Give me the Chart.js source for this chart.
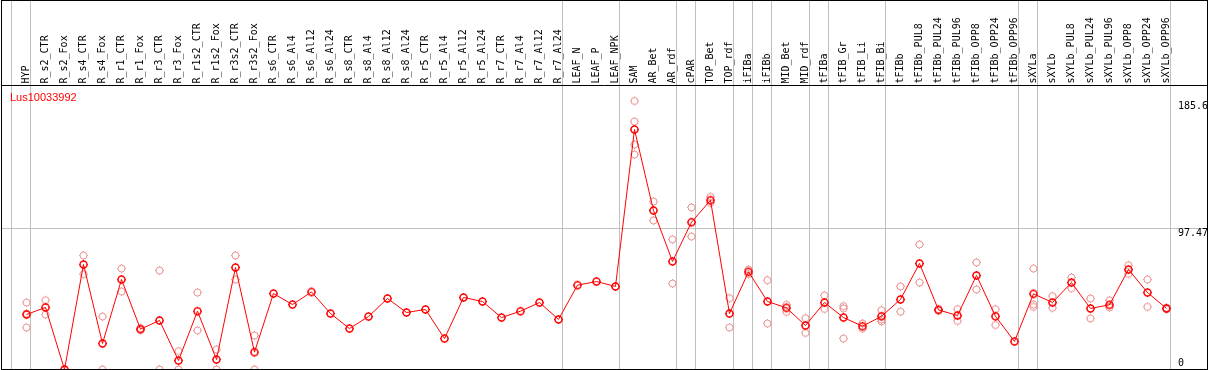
<!DOCTYPE html>
<html>
<head>
<meta charset="utf-8">
<script src="https://cdn.jsdelivr.net/npm/chart.js@4"></script>
<style>
  html, body { margin: 0; padding: 0; background: #fff; }
  canvas { display: block; }
</style>
</head>
<body>
<canvas id="chart" width="1209" height="370"></canvas>
<script>
const geneId = 'Lus10033992';

const categories = [
  'HYP', 'R_s2_CTR', 'R_s2_Fox', 'R_s4_CTR', 'R_s4_Fox', 'R_r1_CTR', 'R_r1_Fox',
  'R_r3_CTR', 'R_r3_Fox', 'R_r1s2_CTR', 'R_r1s2_Fox', 'R_r3s2_CTR', 'R_r3s2_Fox',
  'R_s6_CTR', 'R_s6_Al4', 'R_s6_Al12', 'R_s6_Al24', 'R_s8_CTR', 'R_s8_Al4',
  'R_s8_Al12', 'R_s8_Al24', 'R_r5_CTR', 'R_r5_Al4', 'R_r5_Al12', 'R_r5_Al24',
  'R_r7_CTR', 'R_r7_Al4', 'R_r7_Al12', 'R_r7_Al24', 'LEAF_N', 'LEAF_P', 'LEAF_NPK',
  'SAM', 'AR_Bet', 'AR_rdf', 'cPAR', 'TOP_Bet', 'TOP_rdf', 'iFIBa', 'iFIBb',
  'MID_Bet', 'MID_rdf', 'tFIBa', 'tFIB_Gr', 'tFIB_Li', 'tFIB_Bi', 'tFIBb',
  'tFIBb_PUL8', 'tFIBb_PUL24', 'tFIBb_PUL96', 'tFIBb_OPP8', 'tFIBb_OPP24', 'tFIBb_OPP96',
  'sXYLa', 'sXYLb', 'sXYLb_PUL8', 'sXYLb_PUL24', 'sXYLb_PUL96', 'sXYLb_OPP8',
  'sXYLb_OPP24', 'sXYLb_OPP96'
];

// mean expression per sample (red line)
const meanValues = [
  38.0, 42.9, 0, 72.6, 18.0, 62.2, 27.9, 33.9, 6.2, 40.3, 6.9, 70.5, 12.0,
  52.5, 44.9, 53.6, 38.7, 28.3, 36.6, 49.1, 39.4, 41.5, 21.4, 49.8, 47.0,
  35.9, 40.3, 46.3, 34.6, 58.3, 60.8, 57.4,
  165.9, 109.9, 74.7, 101.8, 117.0, 38.7, 67.5, 47.0, 42.6, 30.4, 46.3,
  35.9, 29.9, 36.8, 48.4, 73.3, 41.2, 37.3, 65.0, 36.8, 19.4,
  52.3, 46.3, 60.1, 42.2, 44.7, 69.1, 53.2, 42.2
];

// individual replicates (pale circles), one list per sample
const replicates = [
  [46.3, 29.0, 38.7], [47.9, 38.0], [0, 0], [78.8, 65.9], [36.6, 0], [69.8, 53.9],
  [28.5, 27.3], [68.4, 0], [12.7, 0], [53.2, 27.0], [13.8, 0], [78.8, 62.2], [23.5, 0],
  [], [], [], [], [], [], [], [], [], [], [], [],
  [], [], [], [], [], [], [],
  [185.6, 171.4, 155.5, 148.6], [116.1, 103.0], [89.9, 59.4], [112.0, 91.9],
  [119.3, 115.2], [49.3, 29.0], [69.1, 65.9], [61.7, 31.8], [44.7, 39.8],
  [35.5, 25.3], [51.2, 41.9], [43.8, 42.2, 21.4], [31.8, 28.3], [41.0, 33.2, 34.6],
  [57.4, 40.0], [86.4, 60.1], [41.7, 40.7], [41.7, 33.6], [74.0, 55.3], [41.7, 30.8], [],
  [69.8, 44.9, 43.3], [50.7, 42.6], [63.6, 56.2], [49.1, 35.3], [47.7, 42.9],
  [72.1, 66.1], [62.2, 43.3], [41.7, 42.7]
];

// last sample index of each group (vertical separators)
const groupEnds = [-1, 0, 28, 31, 34, 35, 37, 38, 39, 41, 42, 45, 52, 53, 60];
const yTicks = [97.47, 185.6];
const yZeroTick = [0];
const yMax = 196.3;

const RED = '#ff0000';
const PALE = '#ec8f8f';
const GRID = '#c0c0c0';
const SEP_SHIFT = 0.21;
const MONO = { family: '"DejaVu Sans Mono", monospace', size: 10 };

// ring with four small ticks, like the original plot symbol
function makeMarker(color, lw, r, nub) {
  const c = document.createElement('canvas');
  c.width = 11;
  c.height = 11;
  const g = c.getContext('2d');
  g.strokeStyle = color;
  g.fillStyle = color;
  g.lineWidth = lw;
  g.beginPath();
  g.arc(5.5, 5.5, r, 0, Math.PI * 2);
  g.stroke();
  g.fillRect(5, nub, 1, 1);
  g.fillRect(5, 10 - nub, 1, 1);
  g.fillRect(nub, 5, 1, 1);
  g.fillRect(10 - nub, 5, 1, 1);
  return c;
}

function noPadding(scale) {
  scale.paddingLeft = 0;
  scale.paddingRight = 0;
  scale.paddingTop = 0;
  scale.paddingBottom = 0;
}

const meanPoints = meanValues.map((v, i) => ({ x: i, y: v }));
const repPoints = [];
replicates.forEach((reps, i) => reps.forEach((v) => repPoints.push({ x: i, y: v })));

const sepValues = groupEnds.map((g) => g + SEP_SHIFT);
const isSep = (v) => sepValues.some((s) => Math.abs(s - v) < 1e-6);

const framePlugin = {
  id: 'frame',
  afterDraw(chart) {
    const ctx = chart.ctx;
    ctx.save();
    ctx.fillStyle = RED;
    ctx.font = '11px "Liberation Sans", Arial, sans-serif';
    ctx.textBaseline = 'alphabetic';
    ctx.fillText(geneId, 10, 101);
    ctx.strokeStyle = '#000';
    ctx.lineWidth = 1;
    ctx.strokeRect(1.5, 0.5, 1206, 369);
    ctx.restore();
  }
};

new Chart(document.getElementById('chart'), {
  type: 'line',
  data: {
    datasets: [
      {
        data: meanPoints,
        borderColor: RED,
        borderWidth: 1,
        tension: 0,
        pointStyle: makeMarker(RED, 1.5, 3.5, 1),
        order: 0,
      },
      {
        data: repPoints,
        showLine: false,
        pointStyle: makeMarker(PALE, 1, 3.5, 1),
        order: 1,
      },
    ],
  },
  options: {
    responsive: false,
    animation: false,
    events: [],
    layout: { autoPadding: false, padding: { left: 1.5, right: 0, top: 0, bottom: 0.5 } },
    plugins: { legend: { display: false }, tooltip: { enabled: false } },
    scales: {
      x: {
        type: 'linear',
        position: 'top',
        min: -1.3158,
        max: 62.158,
        afterBuildTicks: (scale) => {
          const t = categories.map((c, i) => i).concat(sepValues);
          t.sort((a, b) => a - b);
          scale.ticks = t.map((v) => ({ value: v }));
        },
        afterFit: (scale) => { scale.height = 85.5; noPadding(scale); },
        ticks: {
          autoSkip: false,
          minRotation: 90,
          maxRotation: 90,
          padding: -83.5,
          labelOffset: 12,
          color: '#000',
          font: MONO,
          callback: (v) => (Number.isInteger(v) ? categories[v] : ''),
        },
        grid: {
          drawTicks: true,
          tickLength: 85.5,
          color: (ctx) => (ctx.tick && isSep(ctx.tick.value) ? GRID : 'rgba(0,0,0,0)'),
          lineWidth: 1,
        },
        border: { display: true, color: '#000', width: 1 },
      },
      y: {
        type: 'linear',
        position: 'right',
        min: 0,
        max: yMax,
        afterBuildTicks: (scale) => { scale.ticks = yTicks.map((v) => ({ value: v })); },
        afterFit: (scale) => { scale.width = 1.5; noPadding(scale); },
        ticks: {
          mirror: true,
          crossAlign: 'far',
          align: 'start',
          padding: 0.6,
          color: '#000',
          font: MONO,
          callback: (v) => String(v),
        },
        grid: {
          drawTicks: false,
          color: (ctx) => (ctx.tick && ctx.tick.value === yTicks[0] ? GRID : 'rgba(0,0,0,0)'),
        },
        border: { display: false },
      },
      y0: {
        type: 'linear',
        position: 'right',
        min: 0,
        max: yMax,
        afterBuildTicks: (scale) => { scale.ticks = yZeroTick.map((v) => ({ value: v })); },
        afterFit: (scale) => { scale.width = 0; noPadding(scale); },
        ticks: {
          mirror: true,
          crossAlign: 'far',
          align: 'end',
          padding: -25,
          labelOffset: -1,
          color: '#000',
          font: MONO,
          callback: (v) => String(v),
        },
        grid: { display: false, drawTicks: false },
        border: { display: false },
      },
    },
  },
  plugins: [framePlugin],
});
</script>
</body>
</html>
